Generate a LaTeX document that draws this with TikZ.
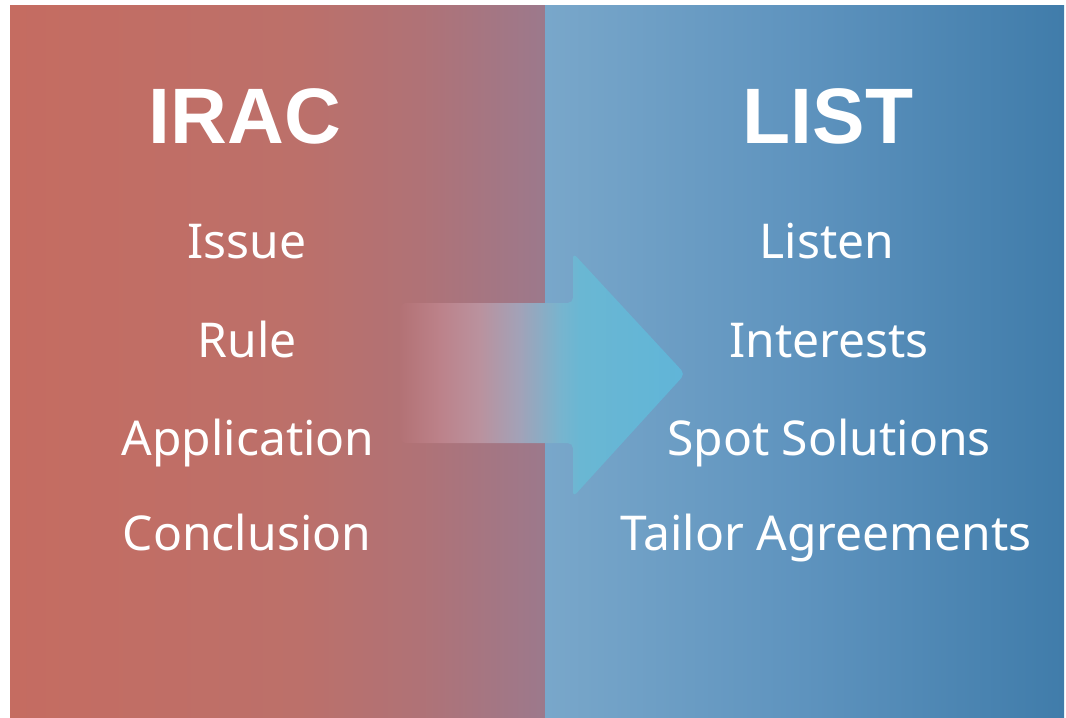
\documentclass[tikz,border=0pt]{standalone}
\usepackage{fontspec}
\setmainfont{Noto Sans}
\newfontfamily\headfont{Liberation Sans}

% panel colours
\definecolor{redA}{RGB}{197,108,97}
\definecolor{redB}{RGB}{188,112,106}
\definecolor{redC}{RGB}{176,114,118}
\definecolor{redD}{RGB}{156,121,140}
\definecolor{blueA}{RGB}{121,167,202}
\definecolor{blueB}{RGB}{94,147,190}
\definecolor{blueC}{RGB}{64,124,170}
% arrow colours
\definecolor{arrA}{RGB}{179,114,117}
\definecolor{arrB}{RGB}{188,130,138}
\definecolor{arrC}{RGB}{186,146,158}
\definecolor{arrD}{RGB}{162,162,184}
\definecolor{arrE}{RGB}{120,180,206}
\definecolor{arrF}{RGB}{106,183,211}
\definecolor{arrG}{RGB}{96,181,216}

% horizontal shadings: the filled path spans 25bp..75bp
\pgfdeclarehorizontalshading{iracshade}{100bp}{color(0bp)=(redA); color(25bp)=(redA);
  color(52bp)=(redB); color(63bp)=(redC); color(75bp)=(redD); color(100bp)=(redD)}
\pgfdeclarehorizontalshading{listshade}{100bp}{color(0bp)=(blueA); color(25bp)=(blueA);
  color(50bp)=(blueB); color(75bp)=(blueC); color(100bp)=(blueC)}
\pgfdeclarehorizontalshading{arrowshade}{100bp}{color(0bp)=(arrA); color(25bp)=(arrA);
  color(32bp)=(arrB); color(39bp)=(arrC); color(46bp)=(arrD); color(53bp)=(arrE);
  color(56.5bp)=(arrF); color(75bp)=(arrG); color(100bp)=(arrG)}

\begin{document}
\begin{tikzpicture}[x=0.75pt,y=-0.75pt,
    heading/.style={text=white, font=\headfont\bfseries\fontsize{59}{68}\selectfont, anchor=base},
    entry/.style={text=white, font=\fontsize{36}{44}\selectfont, anchor=base}]
  \useasboundingbox (0,0) rectangle (1066,717);
  \fill[white] (0,0) rectangle (1066,717);

  % the two panels
  \shade[shading=iracshade] (10,6) rectangle (545,717);
  \shade[shading=listshade] (545,6) rectangle (1064,717);

  % transition arrow
  \shade[shading=arrowshade, rounded corners=4pt]
    (400,303) -- (573,303) -- (573,253) -- (685,374) -- (573,497)
    -- (573,443) -- (400,443) -- cycle;

  % IRAC column
  \node[heading] (irac) at (245,143) {IRAC};
  \node[entry] (issue) at (247,258) {Issue};
  \node[entry] (rule) at (247,357) {Rule};
  \node[entry] (application) at (248,455) {Application};
  \node[entry] (conclusion) at (247,550) {Conclusion};

  % LIST column
  \node[heading] (list) at (828,143) {LIST};
  \node[entry] (listen) at (827,258) {Listen};
  \node[entry] (interests) at (829,357) {Interests};
  \node[entry] (spot) at (829,455) {Spot Solutions};
  \node[entry] (tailor) at (826,550) {Tailor Agreements};
\end{tikzpicture}
\end{document}
